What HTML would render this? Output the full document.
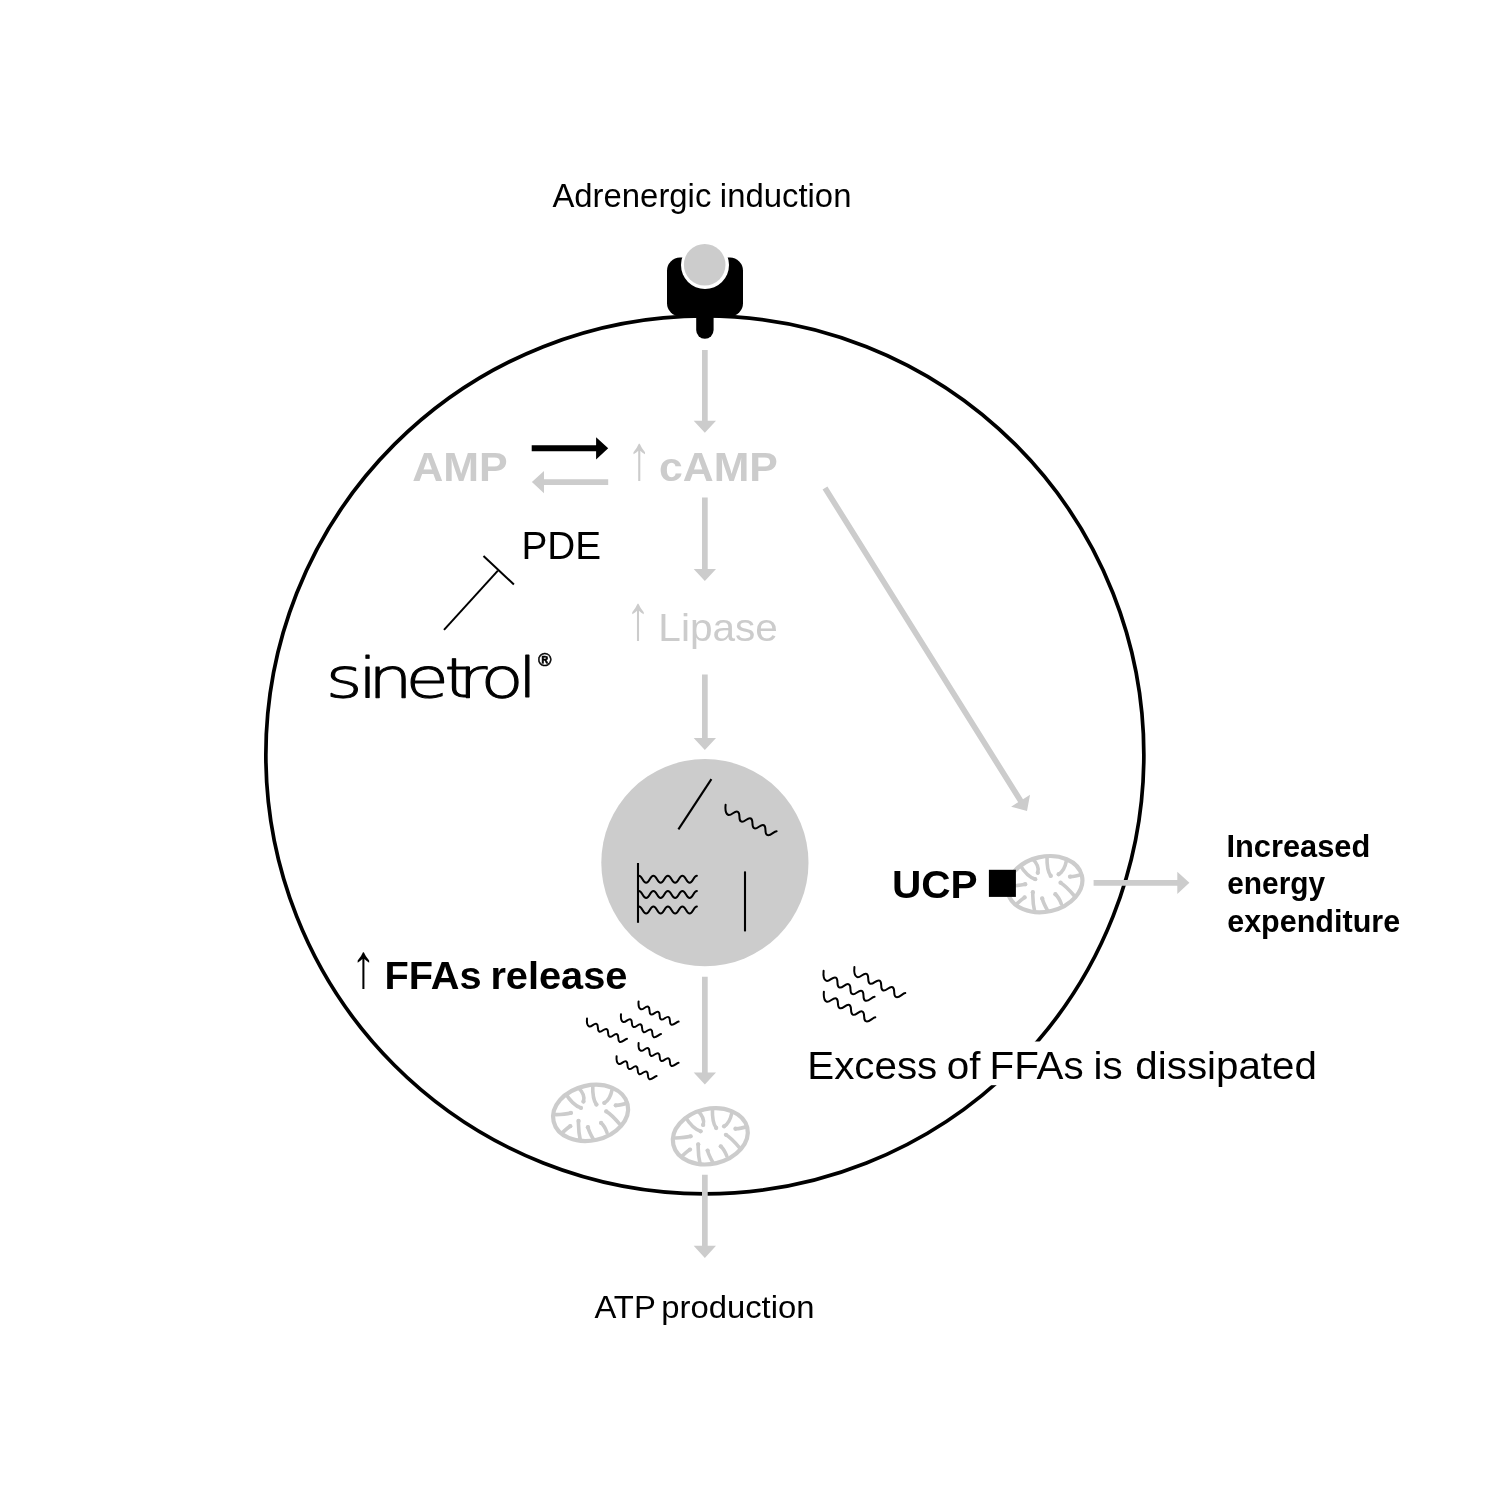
<!DOCTYPE html>
<html lang="en">
<head>
<meta charset="utf-8">
<title>Sinetrol mechanism of action</title>
<style>
html,body{margin:0;padding:0;background:#fff;}
body{width:1500px;height:1500px;overflow:hidden;}
svg{display:block;will-change:transform;}
text{white-space:pre;}
</style>
</head>
<body>
<svg width="1500" height="1500" viewBox="0 0 1500 1500">
<rect width="1500" height="1500" fill="#fff"/>
<circle cx="704.85" cy="754.85" r="439.0" fill="none" stroke="#000" stroke-width="3.7"/>
<rect x="800" y="1041.5" width="530" height="43.7" fill="#fff"/>
<g id="receptor"><rect x="667" y="257.6" width="76" height="58.6" rx="13" ry="13" fill="#000"/><rect x="696.2" y="300" width="17.4" height="38.8" rx="8.7" ry="8.7" fill="#000"/><circle cx="705" cy="265" r="24" fill="#fff"/><circle cx="704.7" cy="264.8" r="20.8" fill="#cccccc"/></g>
<polygon points="702.00,350.00 702.00,420.70 693.70,420.70 704.85,432.80 716.00,420.70 707.70,420.70 707.70,350.00" fill="#cccccc"/>
<polygon points="702.00,497.60 702.00,568.90 693.70,568.90 704.85,581.00 716.00,568.90 707.70,568.90 707.70,497.60" fill="#cccccc"/>
<polygon points="702.00,674.40 702.00,737.90 693.70,737.90 704.85,750.00 716.00,737.90 707.70,737.90 707.70,674.40" fill="#cccccc"/>
<polygon points="702.00,976.80 702.00,1072.40 693.70,1072.40 704.85,1084.50 716.00,1072.40 707.70,1072.40 707.70,976.80" fill="#cccccc"/>
<polygon points="702.00,1174.80 702.00,1245.80 693.70,1245.80 704.85,1257.90 716.00,1245.80 707.70,1245.80 707.70,1174.80" fill="#cccccc"/>
<polygon points="822.58,489.51 1018.17,802.25 1011.13,806.65 1027.00,811.00 1030.04,794.83 1023.00,799.23 827.42,486.49" fill="#cccccc"/>
<polygon points="1093.60,885.65 1177.30,885.65 1177.30,893.95 1189.40,882.80 1177.30,871.65 1177.30,879.95 1093.60,879.95" fill="#cccccc"/>
<polygon points="531.70,451.25 596.10,451.25 596.10,459.45 608.20,448.30 596.10,437.15 596.10,445.35 531.70,445.35" fill="#000"/>
<polygon points="608.20,479.25 544.00,479.25 544.00,470.95 531.90,482.10 544.00,493.25 544.00,484.95 608.20,484.95" fill="#cccccc"/>
<circle cx="704.9" cy="862.7" r="103.6" fill="#cccccc"/>
<g stroke="#000" stroke-width="2.1" fill="none"><line x1="678.4" y1="829.4" x2="711.4" y2="779.2"/><line x1="638" y1="863" x2="638" y2="922.8"/><line x1="745" y1="871.4" x2="745" y2="931.4"/></g>
<path d="M638.90 875.70 C642.33 875.70 642.72 882.70 646.15 882.70 C649.58 882.70 649.97 875.70 653.40 875.70 C656.83 875.70 657.22 882.70 660.65 882.70 C664.08 882.70 664.47 875.70 667.90 875.70 C671.33 875.70 671.72 882.70 675.15 882.70 C678.58 882.70 678.97 875.70 682.40 875.70 C685.83 875.70 686.22 882.70 689.65 882.70 C693.08 882.70 693.47 875.70 696.90 875.70" fill="none" stroke="#000" stroke-width="2.0" stroke-linecap="round"/>
<path d="M638.90 891.00 C642.33 891.00 642.72 898.00 646.15 898.00 C649.58 898.00 649.97 891.00 653.40 891.00 C656.83 891.00 657.22 898.00 660.65 898.00 C664.08 898.00 664.47 891.00 667.90 891.00 C671.33 891.00 671.72 898.00 675.15 898.00 C678.58 898.00 678.97 891.00 682.40 891.00 C685.83 891.00 686.22 898.00 689.65 898.00 C693.08 898.00 693.47 891.00 696.90 891.00" fill="none" stroke="#000" stroke-width="2.0" stroke-linecap="round"/>
<path d="M638.90 906.60 C642.33 906.60 642.72 913.60 646.15 913.60 C649.58 913.60 649.97 906.60 653.40 906.60 C656.83 906.60 657.22 913.60 660.65 913.60 C664.08 913.60 664.47 906.60 667.90 906.60 C671.33 906.60 671.72 913.60 675.15 913.60 C678.58 913.60 678.97 906.60 682.40 906.60 C685.83 906.60 686.22 913.60 689.65 913.60 C693.08 913.60 693.47 906.60 696.90 906.60" fill="none" stroke="#000" stroke-width="2.0" stroke-linecap="round"/>
<path d="M-5.29 -3.25 C-4.28 -0.67 -2.83 2.80 0 2.80 C2.83 2.80 2.92 -2.80 5.75 -2.80 C8.58 -2.80 8.67 2.80 11.50 2.80 C14.33 2.80 14.42 -2.80 17.25 -2.80 C20.08 -2.80 20.17 2.80 23.00 2.80 C25.83 2.80 25.92 -2.80 28.75 -2.80 C31.58 -2.80 31.67 2.80 34.50 2.80 C37.33 2.80 37.78 -1.96 39.79 -3.25" transform="translate(725.60 804.80) rotate(27.37) scale(1.2739) translate(5.29 3.25)" fill="none" stroke="#000" stroke-width="1.570" stroke-linecap="round" stroke-linejoin="round"/>
<path d="M-5.29 -3.25 C-4.28 -0.67 -2.83 2.80 0 2.80 C2.83 2.80 2.92 -2.80 5.75 -2.80 C8.58 -2.80 8.67 2.80 11.50 2.80 C14.33 2.80 14.42 -2.80 17.25 -2.80 C20.08 -2.80 20.17 2.80 23.00 2.80 C25.83 2.80 25.92 -2.80 28.75 -2.80 C31.58 -2.80 31.67 2.80 34.50 2.80 C37.33 2.80 37.78 -1.96 39.79 -3.25" transform="translate(638.60 1001.40) rotate(26.79) scale(0.9940) translate(5.29 3.25)" fill="none" stroke="#000" stroke-width="2.012" stroke-linecap="round" stroke-linejoin="round"/>
<path d="M-5.29 -3.25 C-4.28 -0.67 -2.83 2.80 0 2.80 C2.83 2.80 2.92 -2.80 5.75 -2.80 C8.58 -2.80 8.67 2.80 11.50 2.80 C14.33 2.80 14.42 -2.80 17.25 -2.80 C20.08 -2.80 20.17 2.80 23.00 2.80 C25.83 2.80 25.92 -2.80 28.75 -2.80 C31.58 -2.80 31.67 2.80 34.50 2.80 C37.33 2.80 37.78 -1.96 39.79 -3.25" transform="translate(587.00 1018.60) rotate(26.79) scale(0.9940) translate(5.29 3.25)" fill="none" stroke="#000" stroke-width="2.012" stroke-linecap="round" stroke-linejoin="round"/>
<path d="M-5.29 -3.25 C-4.28 -0.67 -2.83 2.80 0 2.80 C2.83 2.80 2.92 -2.80 5.75 -2.80 C8.58 -2.80 8.67 2.80 11.50 2.80 C14.33 2.80 14.42 -2.80 17.25 -2.80 C20.08 -2.80 20.17 2.80 23.00 2.80 C25.83 2.80 25.92 -2.80 28.75 -2.80 C31.58 -2.80 31.67 2.80 34.50 2.80 C37.33 2.80 37.78 -1.96 39.79 -3.25" transform="translate(621.00 1014.20) rotate(26.34) scale(0.9901) translate(5.29 3.25)" fill="none" stroke="#000" stroke-width="2.020" stroke-linecap="round" stroke-linejoin="round"/>
<path d="M-5.29 -3.25 C-4.28 -0.67 -2.83 2.80 0 2.80 C2.83 2.80 2.92 -2.80 5.75 -2.80 C8.58 -2.80 8.67 2.80 11.50 2.80 C14.33 2.80 14.42 -2.80 17.25 -2.80 C20.08 -2.80 20.17 2.80 23.00 2.80 C25.83 2.80 25.92 -2.80 28.75 -2.80 C31.58 -2.80 31.67 2.80 34.50 2.80 C37.33 2.80 37.78 -1.96 39.79 -3.25" transform="translate(638.60 1043.00) rotate(26.34) scale(0.9901) translate(5.29 3.25)" fill="none" stroke="#000" stroke-width="2.020" stroke-linecap="round" stroke-linejoin="round"/>
<path d="M-5.29 -3.25 C-4.28 -0.67 -2.83 2.80 0 2.80 C2.83 2.80 2.92 -2.80 5.75 -2.80 C8.58 -2.80 8.67 2.80 11.50 2.80 C14.33 2.80 14.42 -2.80 17.25 -2.80 C20.08 -2.80 20.17 2.80 23.00 2.80 C25.83 2.80 25.92 -2.80 28.75 -2.80 C31.58 -2.80 31.67 2.80 34.50 2.80 C37.33 2.80 37.78 -1.96 39.79 -3.25" transform="translate(616.60 1056.20) rotate(26.34) scale(0.9901) translate(5.29 3.25)" fill="none" stroke="#000" stroke-width="2.020" stroke-linecap="round" stroke-linejoin="round"/>
<path d="M-5.29 -3.25 C-4.28 -0.67 -2.83 2.80 0 2.80 C2.83 2.80 2.92 -2.80 5.75 -2.80 C8.58 -2.80 8.67 2.80 11.50 2.80 C14.33 2.80 14.42 -2.80 17.25 -2.80 C20.08 -2.80 20.17 2.80 23.00 2.80 C25.83 2.80 25.92 -2.80 28.75 -2.80 C31.58 -2.80 31.67 2.80 34.50 2.80 C37.33 2.80 37.78 -1.96 39.79 -3.25" transform="translate(823.60 970.80) rotate(27.01) scale(1.2699) translate(5.29 3.25)" fill="none" stroke="#000" stroke-width="1.575" stroke-linecap="round" stroke-linejoin="round"/>
<path d="M-5.29 -3.25 C-4.28 -0.67 -2.83 2.80 0 2.80 C2.83 2.80 2.92 -2.80 5.75 -2.80 C8.58 -2.80 8.67 2.80 11.50 2.80 C14.33 2.80 14.42 -2.80 17.25 -2.80 C20.08 -2.80 20.17 2.80 23.00 2.80 C25.83 2.80 25.92 -2.80 28.75 -2.80 C31.58 -2.80 31.67 2.80 34.50 2.80 C37.33 2.80 37.78 -1.96 39.79 -3.25" transform="translate(854.40 967.10) rotate(27.06) scale(1.2679) translate(5.29 3.25)" fill="none" stroke="#000" stroke-width="1.577" stroke-linecap="round" stroke-linejoin="round"/>
<path d="M-5.29 -3.25 C-4.28 -0.67 -2.83 2.80 0 2.80 C2.83 2.80 2.92 -2.80 5.75 -2.80 C8.58 -2.80 8.67 2.80 11.50 2.80 C14.33 2.80 14.42 -2.80 17.25 -2.80 C20.08 -2.80 20.17 2.80 23.00 2.80 C25.83 2.80 25.92 -2.80 28.75 -2.80 C31.58 -2.80 31.67 2.80 34.50 2.80 C37.33 2.80 37.78 -1.96 39.79 -3.25" transform="translate(823.90 991.70) rotate(26.48) scale(1.2738) translate(5.29 3.25)" fill="none" stroke="#000" stroke-width="1.570" stroke-linecap="round" stroke-linejoin="round"/>
<g stroke="#000" stroke-width="2.0" fill="none"><line x1="444" y1="629.9" x2="497.9" y2="570.7"/><line x1="483.5" y1="556" x2="513.9" y2="584.5"/></g>
<defs><clipPath id="mclip"><ellipse cx="0" cy="0" rx="39.6" ry="29.0" transform="rotate(-13)"/></clipPath><g id="mito"><ellipse cx="0" cy="0" rx="37.95" ry="27.5" transform="rotate(-13)" fill="none" stroke="#cccccc" stroke-width="4.2"/><g fill="none" stroke="#cccccc" stroke-width="3.6" stroke-linecap="round" clip-path="url(#mclip)"><path d="M-25.15 -19.61 Q-17.90 -7.54 -9.67 -5.00"/><path d="M-12.49 -25.43 Q-4.92 -18.30 -7.14 -11.34"/><path d="M2.13 -27.95 Q1.73 -13.87 5.85 -8.30"/><path d="M21.63 -23.78 Q19.46 -12.92 13.76 -9.94"/><path d="M37.50 -10.08 Q29.59 -7.41 25.16 -7.54"/><path d="M29.29 11.56 Q21.36 1.96 15.66 -1.52"/><path d="M16.42 19.65 Q13.76 12.73 10.47 10.07"/><path d="M2.58 26.10 Q-1.44 19.06 -2.70 14.31"/><path d="M-9.95 28.95 Q-12.52 17.80 -12.08 7.98"/><path d="M-28.89 20.55 Q-23.60 15.26 -20.31 13.24"/><path d="M-34.84 1.74 Q-25.50 1.46 -19.68 0.06"/></g><g fill="#cccccc" stroke="none"><circle cx="-9.67" cy="-5.00" r="2.15"/><circle cx="-7.14" cy="-11.34" r="2.15"/><circle cx="5.85" cy="-8.30" r="2.15"/><circle cx="13.76" cy="-9.94" r="2.15"/><circle cx="25.16" cy="-7.54" r="2.15"/><circle cx="15.66" cy="-1.52" r="2.15"/><circle cx="10.47" cy="10.07" r="2.15"/><circle cx="-2.70" cy="14.31" r="2.15"/><circle cx="-12.08" cy="7.98" r="2.15"/><circle cx="-20.31" cy="13.24" r="2.15"/><circle cx="-19.68" cy="0.06" r="2.15"/></g></g></defs>
<use href="#mito" x="1044.9" y="884.2"/>
<use href="#mito" x="590.6" y="1112.9"/>
<use href="#mito" x="710.3" y="1136.3"/>
<rect x="988.9" y="869.8" width="27" height="27.1" fill="#000"/>
<text transform="translate(0 206.80) scale(1.0156 1)" x="543.90" y="0" dx="0 0 0 0 0 0 0 0 0 0 0 -0.62 0 0 0 0 0 0 0 0" font-family='"Liberation Sans", sans-serif' font-size="32.36" font-weight="400" fill="#000">Adrenergic induction</text>
<text transform="translate(412.13 480.80) scale(1.0739 1)" font-family='"Liberation Sans", sans-serif' font-size="40.0" font-weight="700" fill="#cccccc">AMP</text>
<text transform="translate(626.95 479.12) scale(1 1.2798)" font-family='"Liberation Sans", sans-serif' font-size="49.0" fill="#cccccc">↑</text>
<text transform="translate(659.09 480.80) scale(1.0693 1)" font-family='"Liberation Sans", sans-serif' font-size="40.0" font-weight="700" fill="#cccccc">cAMP</text>
<text transform="translate(521.40 558.70) scale(0.9832 1)" font-family='"Liberation Sans", sans-serif' font-size="39.42" font-weight="400" fill="#000">PDE</text>
<text transform="translate(625.75 639.12) scale(1 1.2798)" font-family='"Liberation Sans", sans-serif' font-size="49.0" fill="#cccccc">↑</text>
<text transform="translate(658.35 641.00) scale(1.0477 1)" font-family='"Liberation Sans", sans-serif' font-size="38.72" font-weight="400" fill="#cccccc">Lipase</text>
<text transform="translate(891.96 897.60) scale(1.0298 1)" font-family='"Liberation Sans", sans-serif' font-size="39.42" font-weight="700" fill="#000">UCP</text>
<text transform="translate(1226.40 856.70) scale(1.0005 1)" font-family='"Liberation Sans", sans-serif' font-size="30.8" font-weight="700" fill="#000">Increased</text>
<text transform="translate(1227.21 894.30) scale(0.9695 1)" font-family='"Liberation Sans", sans-serif' font-size="30.8" font-weight="700" fill="#000">energy</text>
<text transform="translate(1227.18 932.20) scale(0.9909 1)" font-family='"Liberation Sans", sans-serif' font-size="30.8" font-weight="700" fill="#000">expenditure</text>
<text transform="translate(351.35 986.74) scale(1 1.2660)" font-family='"Liberation Sans", sans-serif' font-size="49.0" fill="#000">↑</text>
<text transform="translate(0 989.00) scale(1.0193 1)" x="377.12" y="0" dx="0 0 0 0 0 -2.17 0 0 0 0 0 0" font-family='"Liberation Sans", sans-serif' font-size="39.0" font-weight="700" fill="#000">FFAs release</text>
<text transform="translate(0 1078.70) scale(1.0377 1)" x="777.93" y="0" dx="0 0 0 0 0 0 0 -1.58 0 0 -1.95 0 0 0 0 -1.34 0 0 1.52 0 0 0 0 0 0 0 0 0" font-family='"Liberation Sans", sans-serif' font-size="38.86" font-weight="400" fill="#000">Excess of FFAs is dissipated</text>
<text transform="translate(0 1317.80) scale(1.0325 1)" x="575.71" y="0" dx="0 0 0 0 -3.03 0 0 0 0 0 0 0 0 0" font-family='"Liberation Sans", sans-serif' font-size="31.79" font-weight="400" fill="#000">ATP production</text>
<text transform="translate(0 696.8) scale(1.27 1)" x="256.59 281.82 289.73 319.26 349.78 360.80 378.26 407.69" y="0" font-family='"DejaVu Sans", "Liberation Sans", sans-serif' font-weight="200" font-size="55.6" fill="#000" stroke="#000" stroke-width="0.9" stroke-linejoin="round">sinetrol</text>
<text transform="translate(538.00 665.60) scale(1.0000 1)" font-family='"Liberation Sans", sans-serif' font-size="18.4" font-weight="700" fill="#000" stroke="#000" stroke-width="0.5">®</text>
</svg>
</body>
</html>
